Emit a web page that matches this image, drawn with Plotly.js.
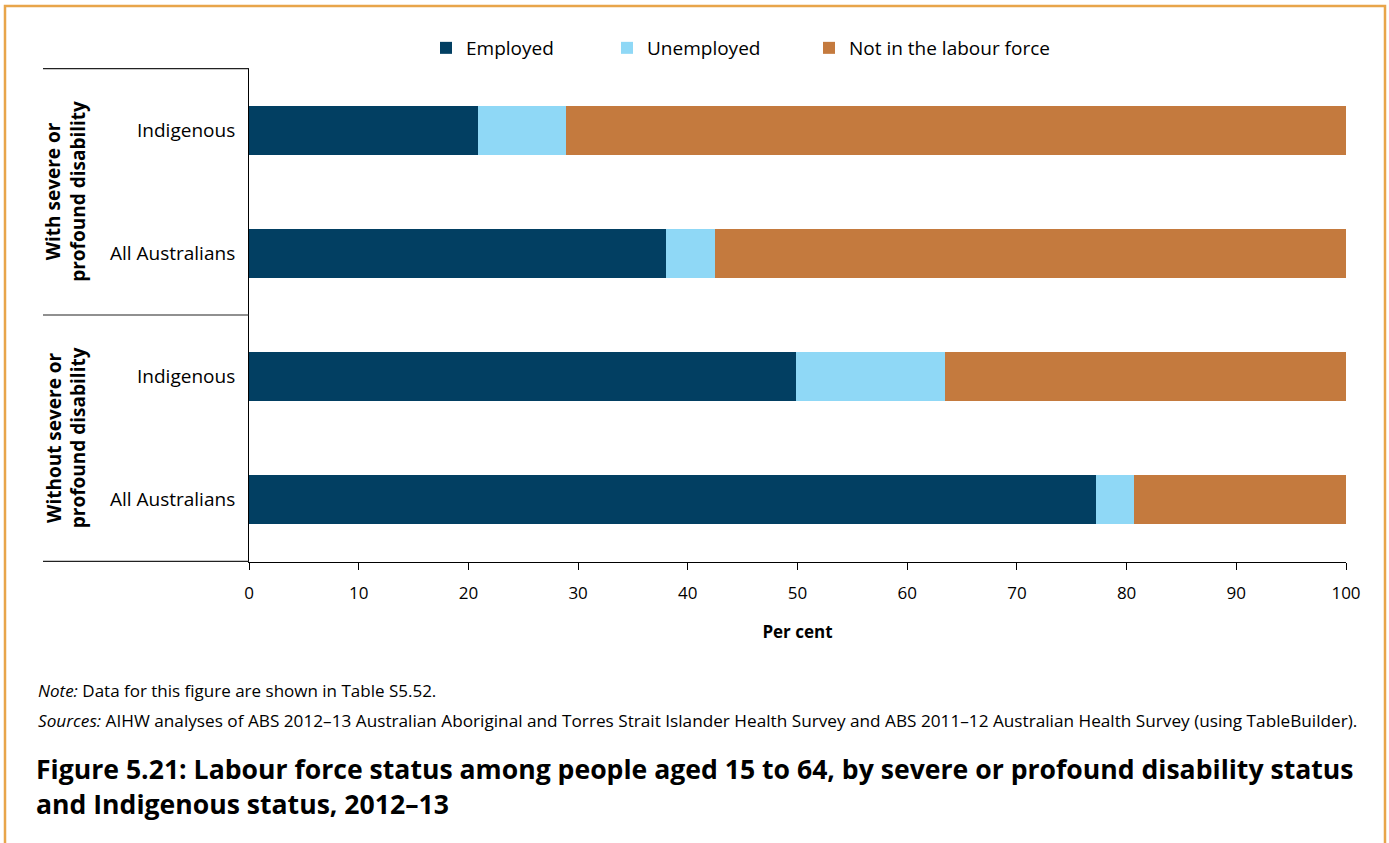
<!DOCTYPE html>
<html>
<head>
<meta charset="utf-8">
<script src="https://cdn.plot.ly/plotly-3.0.1.min.js"></script>
<style>
html,body{margin:0;padding:0;background:#fff;}
#chart{width:1389px;height:843px;}
</style>
</head>
<body>
<div id="chart"></div>
<script>
// ---- data ----
var categoryKeys = ["with_ind", "with_all", "without_ind", "without_all"];
var categoryLabels = ["Indigenous", "All Australians", "Indigenous", "All Australians"];
var groupLabels = ["With severe or<br>profound disability", "Without severe or<br>profound disability"];
var employed = [20.9, 38.0, 49.9, 77.2];
var unemployed = [8.0, 4.5, 13.5, 3.5];
var notInLabourForce = [71.1, 57.7, 36.6, 19.3];
var seriesNames = ["Employed", "Unemployed", "Not in the labour force"];
var xTicks = [0, 10, 20, 30, 40, 50, 60, 70, 80, 90, 100];

var colors = ["#023f62", "#8fd8f6", "#c47a3e"];
var FONT = "Open Sans, Noto Sans, sans-serif";

var L = 249, R = 1346, T = 68, B = 562, W = 1389, H = 843;
var pw = R - L, ph = B - T;
function px2x(p) { return (p - L) / pw; }
function px2y(p) { return (B - p) / ph; }

var legendIds = ["legend", "legend2", "legend3"];
var legendLeftPx = [426, 607, 809];

var seriesValues = [employed, unemployed, notInLabourForce];
var traces = seriesValues.map(function (vals, i) {
  return {
    type: "bar",
    orientation: "h",
    name: seriesNames[i],
    x: vals,
    y: categoryKeys,
    legend: legendIds[i],
    marker: { color: colors[i], line: { width: 0 } },
    hoverinfo: "x+name"
  };
});

var shapes = [];
[-0.5, 1.5, 3.5].forEach(function (v) {
  shapes.push({ type: "line", xref: "paper", yref: "y", x0: px2x(43), x1: 0, y0: v, y1: v,
    line: { color: "#222", width: 1.2 } });
});
shapes.push({ type: "rect", xref: "paper", yref: "paper", x0: px2x(5), x1: px2x(1385), y0: px2y(860), y1: px2y(6),
  line: { color: "#e8a54a", width: 2.5 }, fillcolor: "rgba(0,0,0,0)", layer: "below" });

var annotations = [];
[0.5, 2.5].forEach(function (yc, i) {
  annotations.push({ xref: "paper", yref: "y", x: px2x(66), y: yc, xanchor: "center", yanchor: "middle",
    text: "<b>" + groupLabels[i] + "</b>",
    textangle: -90, showarrow: false, font: { family: FONT, size: 19, color: "#000" }, align: "center" });
});

annotations.push({ xref: "paper", yref: "paper", x: px2x(36), y: px2y(690), xanchor: "left", yanchor: "middle",
  text: "<i>Note:</i> Data for this figure are shown in Table S5.52.", showarrow: false,
  font: { family: FONT, size: 17, color: "#000" } });
annotations.push({ xref: "paper", yref: "paper", x: px2x(36), y: px2y(720), xanchor: "left", yanchor: "middle",
  text: "<i>Sources:</i> AIHW analyses of ABS 2012–13 Australian Aboriginal and Torres Strait Islander Health Survey and ABS 2011–12 Australian Health Survey (using TableBuilder).",
  showarrow: false, font: { family: FONT, size: 17.2, color: "#000" } });
annotations.push({ xref: "paper", yref: "paper", x: px2x(34), y: px2y(786), xanchor: "left", yanchor: "middle",
  text: "<b>Figure 5.21: Labour force status among people aged 15 to 64, by severe or profound disability status<br>and Indigenous status, 2012–13</b>",
  showarrow: false, align: "left", font: { family: FONT, size: 26.6, color: "#000" } });

var layout = {
  width: W, height: H,
  margin: { l: L, r: W - R, t: T, b: H - B, pad: 0 },
  paper_bgcolor: "#fff", plot_bgcolor: "#fff",
  barmode: "stack",
  bargap: 0.6,
  font: { family: FONT, color: "#000" },
  showlegend: true,
  xaxis: {
    range: [0, 100], tickvals: xTicks, ticktext: xTicks.map(String),
    showgrid: false, zeroline: false,
    showline: true, linecolor: "#000", linewidth: 1,
    ticks: "outside", ticklen: 7, tickcolor: "#000",
    tickfont: { family: FONT, size: 17, color: "#000" },
    ticklabelstandoff: 9,
    title: { text: "<b>Per cent</b>", font: { family: FONT, size: 17, color: "#000" }, standoff: 22 }
  },
  yaxis: {
    type: "category",
    categoryorder: "array", categoryarray: categoryKeys,
    autorange: "reversed",
    tickvals: categoryKeys, ticktext: categoryLabels,
    showgrid: false, zeroline: false,
    showline: true, linecolor: "#000", linewidth: 1,
    ticks: "", ticklabelstandoff: 9,
    tickfont: { family: FONT, size: 19, color: "#000" }
  },
  shapes: shapes,
  annotations: annotations
};
legendIds.forEach(function (id, i) {
  layout[id] = { orientation: "h", x: px2x(legendLeftPx[i]), xanchor: "left", y: px2y(48), yanchor: "middle",
    font: { family: FONT, size: 19, color: "#000" }, bgcolor: "rgba(0,0,0,0)" };
});

Plotly.newPlot("chart", traces, layout, { displayModeBar: false, staticPlot: true });
</script>
</body>
</html>
